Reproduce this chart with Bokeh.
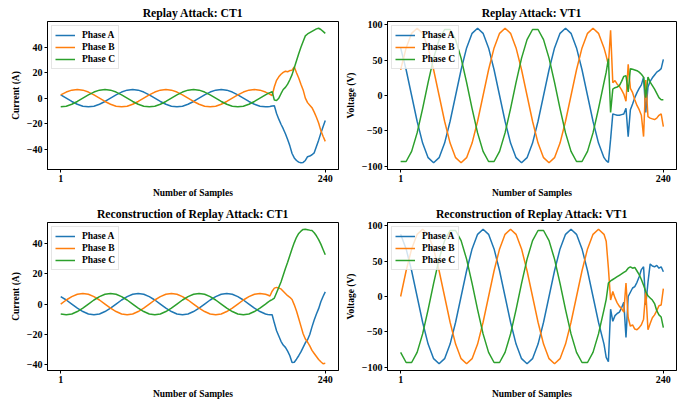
from bokeh.plotting import figure
from bokeh.layouts import column, row
from bokeh.models import Range1d, FixedTicker
from bokeh.embed import file_html
from bokeh.resources import INLINE

# ---------------- data ----------------
samples = [1, 6, 11, 16, 21, 26, 31, 36, 41, 46, 51, 56, 61, 66, 71, 76, 81, 86, 91, 96,
           101, 106, 111, 116, 121, 126, 131, 136, 141, 146, 151, 156, 161, 166, 171, 176, 181, 186,
           188, 190, 192, 194, 196, 198, 200, 202, 204, 206, 208, 210, 212, 214, 216, 218, 220,
           222, 224, 226, 228, 230, 232, 234, 236, 238, 240]
x_ticks = [1, 240]
phase_names = ["Phase A", "Phase B", "Phase C"]

# Replay Attack: CT1
ct_a = [2.6, 0, -2.6, -4.8, -6.3, -6.8, -6.3, -4.8, -2.6, 0, 2.6, 4.8, 6.3, 6.8, 6.3, 4.8,
        2.6, 0, -2.6, -4.8, -6.3, -6.8, -6.3, -4.8, -2.6, 0, 2.6, 4.8, 6.3, 6.8, 6.3, 4.8,
        2.6, 0, -2.6, -4.8, -6.3, -6.8,
        -6.7, -6.5, -6.1, -6.0, -12, -16.5, -20.5, -24, -28, -32.5, -37.5, -43.5, -47, -49,
        -50.3, -50.8, -50.5, -49, -46, -45.5, -44.5, -43, -38, -33, -27.5, -22.5, -17.5]
ct_b = [2.6, 4.8, 6.3, 6.8, 6.3, 4.8, 2.6, 0, -2.6, -4.8, -6.3, -6.8, -6.3, -4.8, -2.6, 0,
        2.6, 4.8, 6.3, 6.8, 6.3, 4.8, 2.6, 0, -2.6, -4.8, -6.3, -6.8, -6.3, -4.8, -2.6, 0,
        2.6, 4.8, 6.3, 6.8, 6.3, 4.8,
        4.0, 3.1, 2.1, 9, 14, 16.8, 18.8, 20.3, 21.2, 20.8, 21.7, 22, 24.5, 20, 15.8, 11,
        6.5, 0, -3.5, -5.5, -7.5, -11, -15, -19.5, -25.5, -30, -34]
ct_c = [-6.8, -6.3, -4.8, -2.6, 0, 2.6, 4.8, 6.3, 6.8, 6.3, 4.8, 2.6, 0, -2.6, -4.8, -6.3,
        -6.8, -6.3, -4.8, -2.6, 0, 2.6, 4.8, 6.3, 6.8, 6.3, 4.8, 2.6, 0, -2.6, -4.8, -6.3,
        -6.8, -6.3, -4.8, -2.6, 0, 2.6,
        3.6, 4.4, 5.2, -1.5, -1.8, 0, 3.5, 6.8, 8.5, 11, 14.5, 18.5, 24, 29.5, 35, 40,
        44.5, 49, 50.5, 51.5, 52.5, 53.5, 54.5, 55, 54, 52.5, 51]

# Replay Attack: VT1
vt_a = [67.2, 36.4, 0, -36.4, -67.2, -87.8, -95, -87.8, -67.2, -36.4, 0, 36.4, 67.2, 87.8, 95, 87.8,
        67.2, 36.4, 0, -36.4, -67.2, -87.8, -95, -87.8, -67.2, -36.4, 0, 36.4, 67.2, 87.8, 95, 87.8,
        67.2, 36.4, 0, -36.4, -67.2, -87.8,
        -92, -94.5, -62, -26, -27, -28, -28, -27, -26, -18, -58, -20, -12, -3, 4, 10, 15,
        26, -24, 12, 20, 25, 29, 33, 35, 38, 51]
vt_b = [36.4, 67.2, 87.8, 95, 87.8, 67.2, 36.4, 0, -36.4, -67.2, -87.8, -95, -87.8, -67.2, -36.4, 0,
        36.4, 67.2, 87.8, 95, 87.8, 67.2, 36.4, 0, -36.4, -67.2, -87.8, -95, -87.8, -67.2, -36.4, 0,
        36.4, 67.2, 87.8, 95, 87.8, 67.2,
        56, 43, 92, 18, 21, 16, 13, 8, 2, -8, 44, 10, 4, -6, -14, -20, -28,
        -58, 22, -30, -32, -33, -34, -32, -28, -26, -44]
vt_c = [-93.2, -93.2, -78.9, -52.8, -18.5, 18.5, 52.8, 78.9, 93.2, 93.2, 78.9, 52.8, 18.5, -18.5, -52.8, -78.9,
        -93.2, -93.2, -78.9, -52.8, -18.5, 18.5, 52.8, 78.9, 93.2, 93.2, 78.9, 52.8, 18.5, -18.5, -52.8, -78.9,
        -93.2, -93.2, -78.9, -52.8, -18.5, 18.5,
        33, 52, -24, 9, 11, 12, 14, 20, 27, 28, 5, 38, 37, 36, 35, 33, 30,
        26, -3, 26, 19, 14, 9, 3, -3, -6, -6]

# Reconstruction of Replay Attack: CT1
ctr_a = [4.9, 2.7, 0, -2.7, -4.9, -6.5, -7, -6.5, -4.9, -2.7, 0, 2.7, 4.9, 6.5, 7, 6.5,
         4.9, 2.7, 0, -2.7, -4.9, -6.5, -7, -6.5, -4.9, -2.7, 0, 2.7, 4.9, 6.5, 7, 6.5,
         4.9, 2.7, 0, -2.7, -4.9, -6.5,
         -6.8, -7.0, -7.0, -12.5, -17.5, -21, -24.5, -27, -28.5, -31, -34, -38.5, -38.3, -36.3,
         -34, -31.5, -28.5, -25.5, -23.5, -20, -15, -10.5, -6.5, -3, 1.5, 5, 8]
ctr_b = [0, 2.7, 4.9, 6.5, 7, 6.5, 4.9, 2.7, 0, -2.7, -4.9, -6.5, -7, -6.5, -4.9, -2.7,
         0, 2.7, 4.9, 6.5, 7, 6.5, 4.9, 2.7, 0, -2.7, -4.9, -6.5, -7, -6.5, -4.9, -2.7,
         0, 2.7, 4.9, 6.5, 7, 6.5,
         6.0, 5.3, 8.5, 10.5, 11, 10.5, 10, 8.5, 7, 5.5, 4.5, 3, -0.5, -4.5, -9.5, -14.5,
         -19.5, -23, -25, -27.5, -30.5, -32.5, -34.5, -36.5, -38, -39.3, -39]
ctr_c = [-6.5, -7, -6.5, -4.9, -2.7, 0, 2.7, 4.9, 6.5, 7, 6.5, 4.9, 2.7, 0, -2.7, -4.9,
         -6.5, -7, -6.5, -4.9, -2.7, 0, 2.7, 4.9, 6.5, 7, 6.5, 4.9, 2.7, 0, -2.7, -4.9,
         -6.5, -7, -6.5, -4.9, -2.7, 0,
         1.1, 2.2, 3, 4, 7.5, 11, 14.5, 19, 23.5, 27.5, 32, 36.5, 40.5, 44, 46.5, 48,
         49.2, 49.3, 49, 48.7, 48.5, 47, 45, 42.5, 39.5, 36, 32.5]

# Reconstruction of Replay Attack: VT1
vtr_a = [87.8, 67.2, 36.4, 0, -36.4, -67.2, -87.8, -95, -87.8, -67.2, -36.4, 0, 36.4, 67.2, 87.8, 95,
         87.8, 67.2, 36.4, 0, -36.4, -67.2, -87.8, -95, -87.8, -67.2, -36.4, 0, 36.4, 67.2, 87.8, 95,
         87.8, 67.2, 36.4, 0, -36.4, -67.2,
         -86, -92, -18, -35, -27, -24, -22, -16, -8, -58, 0, 6, 12, 14, 20, 28, 38,
         42, -12, 20, 46, 43, 42, 44, 40, 42, 35]
vtr_b = [0, 36.4, 67.2, 87.8, 95, 87.8, 67.2, 36.4, 0, -36.4, -67.2, -87.8, -95, -87.8, -67.2, -36.4,
         0, 36.4, 67.2, 87.8, 95, 87.8, 67.2, 36.4, 0, -36.4, -67.2, -87.8, -95, -87.8, -67.2, -36.4,
         0, 36.4, 67.2, 87.8, 95, 87.8,
         78, 40, -5, 7, -2, -9, -14, -17, -22, 19, -30, -42, -40, -46, -47, -44, -40,
         -32, 8, -47, -38, -30, -26, -20, -13, -12, 11]
vtr_c = [-78.9, -93.2, -93.2, -78.9, -52.8, -18.5, 18.5, 52.8, 78.9, 93.2, 93.2, 78.9, 52.8, 18.5, -18.5, -52.8,
         -78.9, -93.2, -93.2, -78.9, -52.8, -18.5, 18.5, 52.8, 78.9, 93.2, 93.2, 78.9, 52.8, 18.5, -18.5, -52.8,
         -78.9, -93.2, -93.2, -78.9, -52.8, -18.5,
         -4, 19, 22, 24, 26, 28, 30, 32, 34, 36, 40, 42, 40, 41, 36, 31, 24,
         16, 7, 1, -2, -5, -10, -20, -26, -29, -44]

ct_ticks = [-40, -20, 0, 20, 40]
vt_ticks = [-100, -50, 0, 50, 100]

for s in (ct_a, ct_b, ct_c, vt_a, vt_b, vt_c, ctr_a, ctr_b, ctr_c, vtr_a, vtr_b, vtr_c):
    assert len(s) == len(samples), len(s)

# ---------------- styling ----------------
FONT = "Liberation Serif"
COLORS = ["#1f77b4", "#ff7f0e", "#2ca02c"]


def pad_range(vals, frac=0.05):
    lo, hi = min(vals), max(vals)
    d = (hi - lo) * frac
    return Range1d(lo - d, hi + d)


def fmt(v):
    return ("\u2212" + str(abs(v))) if v < 0 else str(v)


def make(title, ylabel, yticks, series, w, h, left, right, top, bottom):
    allv = [v for s in series for v in s]
    p = figure(width=w, height=h, output_backend="svg", toolbar_location=None,
               min_border_left=left, min_border_right=right,
               min_border_top=top, min_border_bottom=bottom,
               x_range=pad_range(samples), y_range=pad_range(allv), title=title)
    p.title.text_font = FONT
    p.title.text_font_size = "11.7px"
    p.title.text_font_style = "bold"
    p.title.text_color = "black"
    p.title.align = "center"
    p.title.standoff = 4

    for ys, c, n in zip(series, COLORS, phase_names):
        p.line(samples, ys, line_color=c, line_width=1.5, legend_label=n)

    p.xgrid.visible = False
    p.ygrid.visible = False
    p.outline_line_color = "black"
    p.outline_line_width = 1
    p.outline_line_alpha = 1

    p.xaxis.ticker = FixedTicker(ticks=x_ticks)
    p.yaxis.ticker = FixedTicker(ticks=yticks)
    p.yaxis.major_label_overrides = {v: fmt(v) for v in yticks}
    p.xaxis.axis_label = "Number of Samples"
    p.yaxis.axis_label = ylabel
    for ax in (p.xaxis[0], p.yaxis[0]):
        ax.axis_line_color = "black"
        ax.major_tick_line_color = "black"
        ax.major_tick_out = 3
        ax.major_tick_in = 0
        ax.minor_tick_out = 0
        ax.minor_tick_in = 0
        ax.major_label_standoff = 2
        ax.axis_label_standoff = 3
        ax.major_label_text_font = FONT
        ax.major_label_text_font_size = "10px"
        ax.major_label_text_font_style = "bold"
        ax.major_label_text_color = "black"
        ax.axis_label_text_font = FONT
        ax.axis_label_text_font_size = "9.5px"
        ax.axis_label_text_font_style = "bold"
        ax.axis_label_text_color = "black"

    lg = p.legend[0]
    lg.location = "top_left"
    lg.margin = 4
    lg.padding = 3
    lg.spacing = 0
    lg.glyph_width = 20
    lg.glyph_height = 12
    lg.label_height = 12
    lg.label_standoff = 7
    lg.label_text_font = FONT
    lg.label_text_font_size = "9.5px"
    lg.label_text_font_style = "bold"
    lg.label_text_color = "black"
    lg.border_line_color = "#cccccc"
    lg.border_line_width = 1
    lg.background_fill_alpha = 0.8
    return p


p1 = make("Replay Attack: CT1", "Current (A)", ct_ticks, [ct_a, ct_b, ct_c],
          342, 200, 47, 4, 21, 31)
p2 = make("Replay Attack: VT1", "Voltage (V)", vt_ticks, [vt_a, vt_b, vt_c],
          343, 200, 45, 9, 21, 31)
p3 = make("Reconstruction of Replay Attack: CT1", "Current (A)", ct_ticks, [ctr_a, ctr_b, ctr_c],
          342, 202, 47, 4, 22, 32)
p4 = make("Reconstruction of Replay Attack: VT1", "Voltage (V)", vt_ticks, [vtr_a, vtr_b, vtr_c],
          343, 202, 45, 9, 22, 32)

layout = column(row(p1, p2), row(p3, p4))
open("out.html", "w").write(file_html(layout, INLINE))
